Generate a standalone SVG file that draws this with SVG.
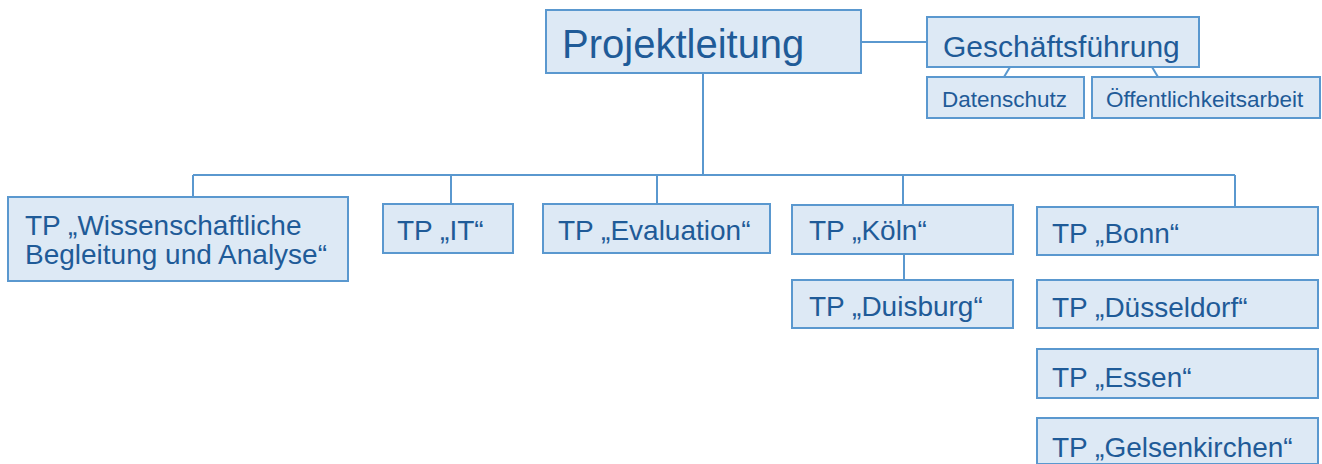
<svg xmlns="http://www.w3.org/2000/svg" width="1322" height="464" viewBox="0 0 1322 464">
<style>
.box{fill:#dde9f5;stroke:#5a98cf;stroke-width:2}
.t{font-family:"Liberation Sans",Arial,sans-serif;fill:#1f5b98}
.c{stroke:#5a98cf;stroke-width:2;fill:none}
</style>
<rect width="1322" height="464" fill="#ffffff"/>
<g id="connectors">
<line class="c" x1="861" y1="42" x2="927" y2="42"/>
<line class="c" x1="1010" y1="67" x2="1004" y2="77"/>
<line class="c" x1="1152" y1="67" x2="1158" y2="77"/>
<line class="c" x1="703" y1="73" x2="703" y2="175"/>
<line class="c" x1="193" y1="175" x2="1235" y2="175"/>
<line class="c" x1="193" y1="175" x2="193" y2="197"/>
<line class="c" x1="451" y1="175" x2="451" y2="204"/>
<line class="c" x1="657" y1="175" x2="657" y2="204"/>
<line class="c" x1="903" y1="175" x2="903" y2="205"/>
<line class="c" x1="904" y1="254" x2="904" y2="280"/>
<line class="c" x1="1235" y1="175" x2="1235" y2="207"/>
</g>
<g id="projektleitung"><rect class="box" x="546" y="10" width="315" height="63"/><text class="t" x="562" y="58" font-size="40">Projektleitung</text></g>
<g id="geschaeftsfuehrung"><rect class="box" x="927" y="17" width="272" height="50"/><text class="t" x="943" y="57" font-size="30">Geschäftsführung</text></g>
<g id="datenschutz"><rect class="box" x="927" y="77" width="157" height="41"/><text class="t" x="942" y="107" font-size="22.5">Datenschutz</text></g>
<g id="oeffentlichkeitsarbeit"><rect class="box" x="1092" y="77" width="228" height="41"/><text class="t" x="1106" y="107" font-size="22.5">Öffentlichkeitsarbeit</text></g>
<g id="tp-wissenschaft"><rect class="box" x="8" y="197" width="340" height="84"/><text class="t" x="25" y="235" font-size="28">TP „Wissenschaftliche</text><text class="t" x="25" y="264" font-size="28">Begleitung und Analyse“</text></g>
<g id="tp-it"><rect class="box" x="383" y="204" width="130" height="49"/><text class="t" x="397" y="240" font-size="28">TP „IT“</text></g>
<g id="tp-evaluation"><rect class="box" x="543" y="204" width="227" height="49"/><text class="t" x="558" y="240" font-size="28">TP „Evaluation“</text></g>
<g id="tp-koeln"><rect class="box" x="792" y="205" width="221" height="49"/><text class="t" x="809" y="240" font-size="28">TP „Köln“</text></g>
<g id="tp-duisburg"><rect class="box" x="792" y="280" width="221" height="48"/><text class="t" x="809" y="316" font-size="28">TP „Duisburg“</text></g>
<g id="tp-bonn"><rect class="box" x="1037" y="207" width="281" height="48"/><text class="t" x="1052" y="243" font-size="28">TP „Bonn“</text></g>
<g id="tp-duesseldorf"><rect class="box" x="1037" y="280" width="281" height="48"/><text class="t" x="1052" y="317" font-size="28">TP „Düsseldorf“</text></g>
<g id="tp-essen"><rect class="box" x="1037" y="349" width="281" height="49"/><text class="t" x="1052" y="387" font-size="28">TP „Essen“</text></g>
<g id="tp-gelsenkirchen"><rect class="box" x="1037" y="418" width="281" height="46"/><text class="t" x="1052" y="457" font-size="28">TP „Gelsenkirchen“</text></g>
</svg>
